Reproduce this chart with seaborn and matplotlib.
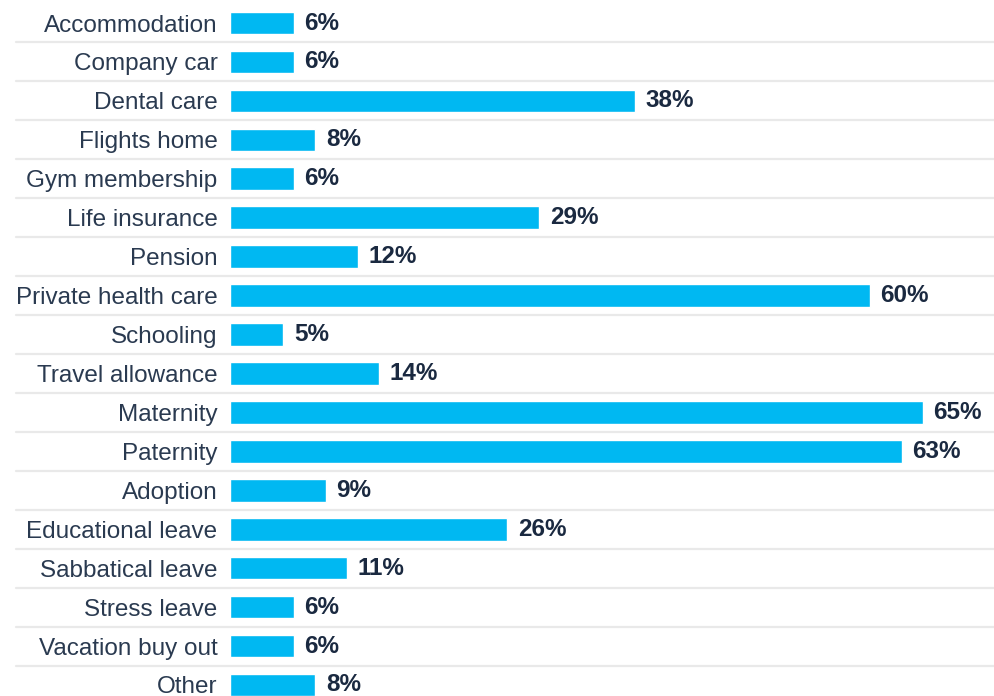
import matplotlib
matplotlib.use("Agg")
import matplotlib.pyplot as plt
import seaborn as sns
import pandas as pd

categories = [
    "Accommodation", "Company car", "Dental care", "Flights home",
    "Gym membership", "Life insurance", "Pension", "Private health care",
    "Schooling", "Travel allowance", "Maternity", "Paternity", "Adoption",
    "Educational leave", "Sabbatical leave", "Stress leave",
    "Vacation buy out", "Other",
]
shares = [6, 6, 38, 8, 6, 29, 12, 60, 5, 14, 65, 63, 9, 26, 11, 6, 6, 8]

df = pd.DataFrame({"benefit": categories, "share": shares})

sns.set_theme(style="white")
plt.rcParams["font.family"] = ["Liberation Sans", "DejaVu Sans"]

BAR = "#00B8F2"
NAVY = "#1A2940"
LABEL = "#2A3A50"
GRID = "#E9E9E9"

W, H = 995, 696
fig = plt.figure(figsize=(W / 100, H / 100), dpi=100)
left_px = 230
ax = fig.add_axes([left_px / W, 0, 1 - left_px / W, 1])

sns.barplot(data=df, x="share", y="benefit", color=BAR, width=0.58,
            saturation=1, ax=ax, orient="h")

row_px = 38.94
first_px = 23
ax.set_ylim((H - first_px) / row_px, -first_px / row_px)
px_per_unit = 10.66
ax.set_xlim(0, (W - left_px) / px_per_unit)

# separator lines between rows, running under the labels too
x_start = (16 - left_px) / (W - left_px)
for i in range(len(categories) - 1):
    ax.axhline(i + 0.5, xmin=x_start, xmax=1, color=GRID, lw=1.6,
               clip_on=False, zorder=0)

for i, v in enumerate(shares):
    ax.text(v + 1.0, i, f"{v}%", va="center", ha="left", fontsize=17.5,
            fontweight="bold", color=NAVY)

ax.set_xlabel("")
ax.set_ylabel("")
ax.set_xticks([])
ax.tick_params(axis="y", length=0, pad=9, labelsize=17.5, labelcolor=LABEL)
for s in ax.spines.values():
    s.set_visible(False)
ax.patch.set_alpha(0)

fig.savefig("out.png", dpi=100)
